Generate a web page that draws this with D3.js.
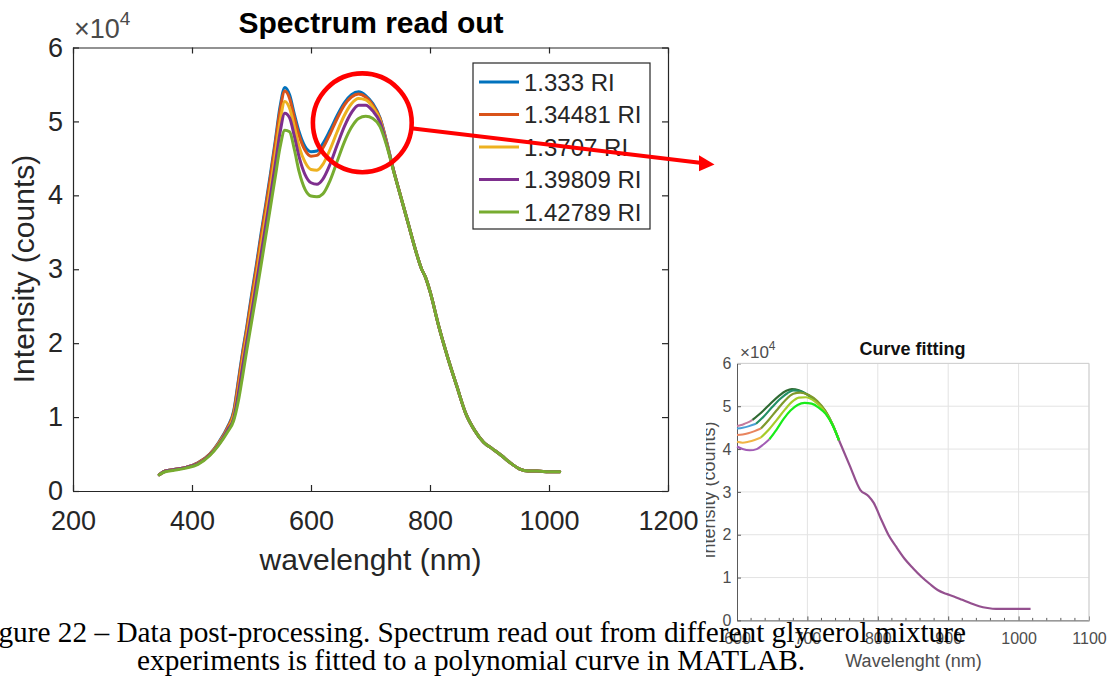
<!DOCTYPE html>
<html>
<head>
<meta charset="utf-8">
<script src="https://cdn.jsdelivr.net/npm/d3@7"></script>
<style>
  html, body { margin: 0; padding: 0; background: #fff; overflow: hidden; }
  svg { display: block; }
</style>
</head>
<body>
<svg id="fig" width="1120" height="677"></svg>
<script>
// ---------- Spectrum read out (intensity in units of 1e4 counts) ----------
const wavelength = [345, 355, 370, 390, 410, 430, 445, 460, 470, 478, 485, 492, 500, 508, 516, 524, 532, 540, 548, 556,
  564, 572, 580, 590, 600, 610, 620, 632, 644, 656, 668, 680, 692, 704, 716, 728, 740, 752, 764, 776,
  786, 792, 800, 815, 830, 845, 860, 875, 890, 905, 920, 935, 950, 965, 980, 1000, 1018];

const ri1333 = [0.22, 0.27, 0.29, 0.32, 0.38, 0.50, 0.66, 0.87, 1.08, 1.50, 1.88, 2.22, 2.65, 3.05, 3.48, 3.88, 4.30, 4.74, 5.20, 5.46,
  5.36, 5.10, 4.86, 4.66, 4.59, 4.60, 4.70, 4.88, 5.08, 5.25, 5.36, 5.40, 5.35, 5.24, 5.05, 4.70, 4.30, 3.95, 3.60, 3.25,
  3.00, 2.90, 2.70, 2.22, 1.80, 1.42, 1.05, 0.82, 0.66, 0.57, 0.48, 0.38, 0.30, 0.27, 0.27, 0.26, 0.26];
const ri134481 = [0.22, 0.27, 0.29, 0.32, 0.38, 0.50, 0.65, 0.86, 1.06, 1.47, 1.85, 2.19, 2.61, 3.01, 3.44, 3.84, 4.26, 4.70, 5.15, 5.41,
  5.31, 5.05, 4.81, 4.61, 4.53, 4.54, 4.64, 4.83, 5.04, 5.22, 5.33, 5.37, 5.33, 5.22, 5.04, 4.69, 4.30, 3.95, 3.60, 3.25,
  3.00, 2.90, 2.70, 2.22, 1.80, 1.42, 1.05, 0.82, 0.66, 0.57, 0.48, 0.38, 0.30, 0.27, 0.27, 0.26, 0.26];
const ri13707 = [0.22, 0.27, 0.29, 0.32, 0.37, 0.49, 0.64, 0.84, 1.02, 1.38, 1.76, 2.10, 2.50, 2.90, 3.32, 3.72, 4.12, 4.56, 5.00, 5.27,
  5.18, 4.93, 4.66, 4.45, 4.35, 4.34, 4.42, 4.62, 4.86, 5.08, 5.24, 5.31, 5.29, 5.19, 5.02, 4.68, 4.30, 3.95, 3.60, 3.25,
  3.00, 2.90, 2.70, 2.22, 1.80, 1.42, 1.05, 0.82, 0.66, 0.57, 0.48, 0.38, 0.30, 0.27, 0.27, 0.26, 0.26];
const ri139809 = [0.22, 0.27, 0.29, 0.32, 0.37, 0.49, 0.63, 0.83, 0.98, 1.32, 1.68, 2.02, 2.40, 2.80, 3.20, 3.60, 4.00, 4.42, 4.85, 5.11,
  5.05, 4.80, 4.52, 4.28, 4.17, 4.15, 4.22, 4.42, 4.68, 4.93, 5.12, 5.22, 5.22, 5.14, 4.99, 4.67, 4.30, 3.95, 3.60, 3.25,
  3.00, 2.90, 2.70, 2.22, 1.80, 1.42, 1.05, 0.82, 0.66, 0.57, 0.48, 0.38, 0.30, 0.27, 0.27, 0.26, 0.26];
const ri142789 = [0.22, 0.26, 0.28, 0.31, 0.36, 0.48, 0.62, 0.80, 0.95, 1.22, 1.55, 1.90, 2.28, 2.66, 3.05, 3.45, 3.85, 4.25, 4.65, 4.88,
  4.86, 4.62, 4.32, 4.08, 3.99, 3.98, 4.02, 4.20, 4.46, 4.72, 4.92, 5.04, 5.07, 5.04, 4.93, 4.65, 4.29, 3.95, 3.60, 3.25,
  3.00, 2.90, 2.70, 2.22, 1.80, 1.42, 1.05, 0.82, 0.66, 0.57, 0.48, 0.38, 0.30, 0.27, 0.27, 0.26, 0.26];

const seriesLabels = ["1.333 RI", "1.34481 RI", "1.3707 RI", "1.39809 RI", "1.42789 RI"];
const seriesValues = [ri1333, ri134481, ri13707, ri139809, ri142789];
const seriesColors = ["#0072BD", "#D95319", "#EDB120", "#7E2F8E", "#77AC30"];

const xTicks = [200, 400, 600, 800, 1000, 1200];
const yTicks = [0, 1, 2, 3, 4, 5, 6];

// ---------- Curve fitting (zoomed, 600-1100 nm) ----------
const insetRawNm = [
  [600, 606, 612, 618, 622],
  [600, 608, 616, 627],
  [600, 608, 616, 625, 634],
  [600, 608, 616, 625, 634],
  [600, 608, 618, 628, 637, 646]
];
const insetRawVal = [
  [4.54, 4.56, 4.60, 4.64, 4.68],
  [4.48, 4.50, 4.53, 4.59],
  [4.33, 4.34, 4.37, 4.42, 4.48],
  [4.17, 4.15, 4.17, 4.21, 4.27],
  [4.06, 4.00, 3.97, 4.00, 4.10, 4.23]
];
const insetFitNm = [
  [622, 635, 648, 660, 670, 678, 688, 700, 712, 724, 735, 745],
  [627, 638, 650, 662, 672, 680, 690, 702, 714, 726, 736, 745],
  [634, 645, 656, 668, 680, 690, 702, 714, 726, 736, 745],
  [634, 645, 656, 668, 678, 688, 698, 710, 722, 734, 745],
  [646, 656, 666, 676, 686, 696, 706, 716, 726, 736, 745]
];
const insetFitVal = [
  [4.68, 4.86, 5.07, 5.25, 5.36, 5.40, 5.37, 5.27, 5.12, 4.92, 4.60, 4.20],
  [4.59, 4.76, 4.98, 5.18, 5.31, 5.37, 5.35, 5.25, 5.09, 4.86, 4.56, 4.20],
  [4.48, 4.68, 4.90, 5.13, 5.29, 5.32, 5.26, 5.12, 4.88, 4.57, 4.20],
  [4.27, 4.45, 4.67, 4.92, 5.10, 5.20, 5.21, 5.12, 4.93, 4.62, 4.20],
  [4.23, 4.45, 4.70, 4.90, 5.03, 5.08, 5.06, 4.97, 4.82, 4.55, 4.20]
];
const tailNm = [745, 760, 775, 787, 794, 805, 815, 826, 838, 850, 862, 874, 885, 897, 908, 920, 932, 944, 956, 968, 979, 1000, 1017];
const tailVal = [4.20, 3.62, 3.05, 2.90, 2.75, 2.35, 2.00, 1.72, 1.44, 1.22, 1.02, 0.85, 0.71, 0.62, 0.56, 0.48, 0.40, 0.33, 0.29, 0.27, 0.27, 0.27, 0.27];

const rawColors = ["#c47a9c", "#4a9fd6", "#e8845e", "#f0b445", "#a25cb5"];
const fitColors = ["#2f6a32", "#239066", "#7f9a2c", "#a6cc2a", "#19ec19"];
const tailColor = "#94508f";

const insetXTicks = [600, 700, 800, 900, 1000, 1100];
const insetYTicks = [0, 1, 2, 3, 4, 5, 6];

const captionLines = [
  "Figure 22 \u2013 Data post-processing. Spectrum read out from different glycerol mixture",
  "experiments is fitted to a polynomial curve in MATLAB."
];

// ---------- drawing ----------
const svg = d3.select("#fig");
const axisColor = "#262626";
const sans = "'Liberation Sans', Arial, Helvetica, sans-serif";

// ===== main spectrum chart =====
const xL = d3.scaleLinear().domain([200, 1200]).range([73, 668]);
const yL = d3.scaleLinear().domain([0, 6]).range([491, 47.5]);
const main = svg.append("g");

function styleAxis(g, size, color) {
  g.select(".domain").attr("stroke", color).attr("stroke-width", 1.2);
  g.selectAll(".tick line").attr("stroke", color).attr("stroke-width", 1.2);
  g.selectAll(".tick text").attr("fill", color).style("font-family", sans).style("font-size", size + "px");
}

main.append("g").attr("transform", `translate(0,${yL(0)})`)
  .call(d3.axisBottom(xL).tickValues(xTicks).tickSizeInner(-6).tickSizeOuter(0).tickPadding(20).tickFormat(d3.format("d")))
  .call(g => styleAxis(g, 27, axisColor));
main.append("g").attr("transform", `translate(0,${yL(6)})`)
  .call(d3.axisTop(xL).tickValues(xTicks).tickSizeInner(-6).tickSizeOuter(0).tickFormat(""))
  .call(g => styleAxis(g, 27, axisColor));
main.append("g").attr("transform", `translate(${xL(200)},0)`)
  .call(d3.axisLeft(yL).tickValues(yTicks).tickSizeInner(-6).tickSizeOuter(0).tickPadding(10).tickFormat(d3.format("d")))
  .call(g => styleAxis(g, 27, axisColor));
main.append("g").attr("transform", `translate(${xL(1200)},0)`)
  .call(d3.axisRight(yL).tickValues(yTicks).tickSizeInner(-6).tickSizeOuter(0).tickFormat(""))
  .call(g => styleAxis(g, 27, axisColor));

// exponent marker
const expMain = main.append("text").attr("x", 74).attr("y", 38)
  .attr("fill", "#4a4a4a").style("font-family", sans).style("font-size", "27px");
expMain.append("tspan").text("\u00d710");
expMain.append("tspan").attr("dy", -13).style("font-size", "19px").text("4");

main.append("text").attr("x", 371).attr("y", 33).attr("text-anchor", "middle")
  .attr("fill", "#000").style("font-family", sans).style("font-size", "30px").style("font-weight", "bold")
  .text("Spectrum read out");
main.append("text").attr("x", 370.5).attr("y", 570).attr("text-anchor", "middle")
  .attr("fill", axisColor).style("font-family", sans).style("font-size", "30px")
  .text("wavelenght (nm)");
main.append("text").attr("transform", "translate(34,269) rotate(-90)").attr("text-anchor", "middle")
  .attr("fill", axisColor).style("font-family", sans).style("font-size", "30px")
  .text("Intensity (counts)");

const lineL = d3.line().x(d => xL(d[0])).y(d => yL(d[1])).curve(d3.curveMonotoneX);
main.append("g").selectAll("path").data(seriesValues).join("path")
  .attr("d", vals => lineL(wavelength.map((w, i) => [w, vals[i]])))
  .attr("fill", "none")
  .attr("stroke", (d, i) => seriesColors[i])
  .attr("stroke-width", 3)
  .attr("stroke-linejoin", "round")
  .attr("stroke-linecap", "round");

// legend
const leg = main.append("g");
leg.append("rect").attr("x", 473).attr("y", 63).attr("width", 177).attr("height", 166)
  .attr("fill", "#fff").attr("stroke", axisColor).attr("stroke-width", 1.2);
seriesLabels.forEach((lab, i) => {
  const cy = 82 + i * 32.5;
  leg.append("line").attr("x1", 479).attr("x2", 519).attr("y1", cy).attr("y2", cy)
    .attr("stroke", seriesColors[i]).attr("stroke-width", 3.2);
  leg.append("text").attr("x", 524).attr("y", cy + 8.5)
    .attr("fill", axisColor).style("font-family", sans).style("font-size", "24px").text(lab);
});

// ===== curve fitting chart =====
const xI = d3.scaleLinear().domain([600, 1100]).range([737, 1089]);
const yI = d3.scaleLinear().domain([0, 6]).range([620.4, 363.4]);
svg.append("defs").append("clipPath").attr("id", "insetClip")
  .append("rect").attr("x", 706).attr("y", 330).attr("width", 414).attr("height", 347);
const inset = svg.append("g").attr("clip-path", "url(#insetClip)");
const insetAxis = "#5a5a5a";
const insetText = "#4d4d4d";

// grid
inset.append("g").selectAll("line").data(insetXTicks.slice(1)).join("line")
  .attr("x1", d => xI(d)).attr("x2", d => xI(d)).attr("y1", yI(0)).attr("y2", yI(6))
  .attr("stroke", "#e3e3e3").attr("stroke-width", 1);
inset.append("g").selectAll("line").data(insetYTicks.slice(1)).join("line")
  .attr("x1", xI(600)).attr("x2", xI(1100)).attr("y1", d => yI(d)).attr("y2", d => yI(d))
  .attr("stroke", "#e3e3e3").attr("stroke-width", 1);

// minor ticks along the wavelength axis
inset.append("g").selectAll("line").data(d3.range(620, 1100, 20).filter(v => v % 100 !== 0)).join("line")
  .attr("x1", d => xI(d)).attr("x2", d => xI(d)).attr("y1", yI(0)).attr("y2", yI(0) - 2.5)
  .attr("stroke", insetAxis).attr("stroke-width", 1);

inset.append("g").attr("transform", `translate(0,${yI(0)})`)
  .call(d3.axisBottom(xI).tickValues(insetXTicks).tickSizeInner(-4).tickSizeOuter(0).tickPadding(12).tickFormat(d3.format("d")))
  .call(g => {
    g.select(".domain").attr("stroke", insetAxis).attr("stroke-width", 1);
    g.selectAll(".tick line").attr("stroke", insetAxis);
    g.selectAll(".tick text").attr("fill", insetText).style("font-family", sans).style("font-size", "16px");
  });
inset.append("g").attr("transform", `translate(${xI(600)},0)`)
  .call(d3.axisLeft(yI).tickValues(insetYTicks).tickSizeInner(-4).tickSizeOuter(0).tickPadding(5.5).tickFormat(d3.format("d")))
  .call(g => {
    g.select(".domain").attr("stroke", insetAxis).attr("stroke-width", 1);
    g.selectAll(".tick line").attr("stroke", insetAxis);
    g.selectAll(".tick text").attr("fill", insetText).style("font-family", sans).style("font-size", "16px");
  });
// light top / right frame
inset.append("path")
  .attr("d", `M${xI(600)},${yI(6)}H${xI(1100)}V${yI(0)}`)
  .attr("fill", "none").attr("stroke", "#cfcfcf").attr("stroke-width", 1);

const expInset = inset.append("text").attr("x", 740).attr("y", 358)
  .attr("fill", insetText).style("font-family", sans).style("font-size", "17px");
expInset.append("tspan").text("\u00d710");
expInset.append("tspan").attr("dy", -8).style("font-size", "12px").text("4");

inset.append("text").attr("x", 912.5).attr("y", 355).attr("text-anchor", "middle")
  .attr("fill", "#111").style("font-family", sans).style("font-size", "18px").style("font-weight", "bold")
  .text("Curve fitting");
inset.append("text").attr("x", 913.5).attr("y", 667).attr("text-anchor", "middle")
  .attr("fill", insetText).style("font-family", sans).style("font-size", "18px")
  .text("Wavelenght (nm)");
inset.append("text").attr("transform", "translate(715,490) rotate(-90)").attr("text-anchor", "middle")
  .attr("fill", insetText).style("font-family", sans).style("font-size", "18px")
  .text("Intensity (counts)");

const lineI = d3.line().x(d => xI(d[0])).y(d => yI(d[1])).curve(d3.curveMonotoneX);
const pairs = (nm, v) => nm.map((w, i) => [w, v[i]]);
inset.append("g").selectAll("path").data(insetRawNm).join("path")
  .attr("d", (nm, i) => lineI(pairs(nm, insetRawVal[i])))
  .attr("fill", "none").attr("stroke", (d, i) => rawColors[i]).attr("stroke-width", 2);
inset.append("g").selectAll("path").data(insetFitNm).join("path")
  .attr("d", (nm, i) => lineI(pairs(nm, insetFitVal[i])))
  .attr("fill", "none").attr("stroke", (d, i) => fitColors[i]).attr("stroke-width", 2.2);
inset.append("path").attr("d", lineI(pairs(tailNm, tailVal)))
  .attr("fill", "none").attr("stroke", tailColor).attr("stroke-width", 2.2);

// ===== callout: circle + arrow =====
const callout = svg.append("g");
callout.append("circle").attr("cx", 362.3).attr("cy", 122.8).attr("r", 49.4)
  .attr("fill", "none").attr("stroke", "#ff0000").attr("stroke-width", 4.6);
callout.append("line").attr("x1", 411).attr("y1", 128.2).attr("x2", 702).attr("y2", 163.1)
  .attr("stroke", "#ff0000").attr("stroke-width", 4);
callout.append("path").attr("d", "M699,155.2 L714.5,164.4 L699,171.2 Z").attr("fill", "#ff0000");

// ===== caption =====
const cap = svg.append("g").style("font-family", "'Liberation Serif', 'Times New Roman', serif")
  .style("font-size", "29.3px").attr("fill", "#000");
cap.append("text").attr("x", -26).attr("y", 641.5).text(captionLines[0]);
cap.append("text").attr("x", 137).attr("y", 670).text(captionLines[1]);
</script>
</body>
</html>
